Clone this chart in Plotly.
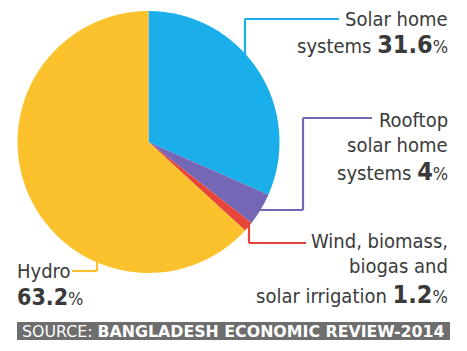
import math
import plotly.graph_objects as go

labels = ["Solar home systems", "Rooftop solar home systems", "Wind, biomass, biogas and solar irrigation", "Hydro"]
values = [31.6, 4, 1.2, 63.2]
colors = ["#1aaeea", "#7367b6", "#e8453a", "#fcc22e"]
source_regular = "SOURCE: "
source_bold = "BANGLADESH ECONOMIC REVIEW-2014"

W, H = 467, 351
FONT = "DejaVu Sans Condensed, Liberation Sans Narrow, sans-serif"
TXT = "#3a3a3a"

def px(x):
    return x / W

def py(y):
    return 1 - y / H

# pie geometry (pixels)
cx, cy, r = 148.5, 142, 131
dom_x = [px(cx - r), px(cx + r)]
dom_y = [py(cy + r), py(cy - r)]

fig = go.Figure(go.Pie(
    labels=labels, values=values, sort=False, direction="clockwise", rotation=0,
    marker=dict(colors=colors, line=dict(width=0)),
    textinfo="none", hoverinfo="label+percent", showlegend=False,
    domain=dict(x=dom_x, y=dom_y),
))

def edge_y(x, sign):
    return cy + sign * math.sqrt(max(r * r - (x - cx) ** 2, 0))

def edge_x(y, sign):
    return cx + sign * math.sqrt(max(r * r - (y - cy) ** 2, 0))

shapes = []
def seg(x0, y0, x1, y1, color):
    shapes.append(dict(type="line", xref="paper", yref="paper",
                       x0=px(x0), y0=py(y0), x1=px(x1), y1=py(y1),
                       line=dict(color=color, width=2.2), layer="below"))

# leader lines
seg(339, 19, 245, 19, colors[0]); seg(245, 19, 245, edge_y(245, -1) + 3, colors[0])
seg(372, 118, 303, 118, colors[1]); seg(303, 118, 303, 210, colors[1]); seg(303, 210, edge_x(210, 1) - 3, 210, colors[1])
seg(306, 243, 249, 243, colors[2]); seg(249, 243, 249, edge_y(249, 1) - 3, colors[2])
seg(72, 271, 97, 271, colors[3]); seg(97, 271, 97, edge_y(97, 1) - 3, colors[3])

# gray source bar
shapes.append(dict(type="rect", xref="paper", yref="paper",
                   x0=px(17), x1=px(450), y0=py(340), y1=py(322),
                   fillcolor="#6e6e6e", line=dict(width=0), layer="below"))

ann = []
def t(x, y, text, anchor="right", size=20):
    ann.append(dict(xref="paper", yref="paper", x=px(x), y=py(y), text=text,
                    showarrow=False, xanchor=anchor, yanchor="middle",
                    font=dict(family=FONT, size=size, color=TXT)))

def num(v, s=25):
    return f"<b><span style='font-size:{s}px'>{v:g}</span></b><span style='font-size:18px'>%</span>"

t(450, 19, "Solar home")
t(450, 45, "systems " + num(values[0]))
t(450, 120, "Rooftop")
t(450, 145, "solar home")
t(450, 171, "systems " + num(values[1]))
t(450, 241, "Wind, biomass,")
t(450, 266, "biogas and")
t(450, 294, "solar irrigation " + num(values[2]))
t(15, 271, "Hydro", anchor="left")
t(15, 297, num(values[3], 23), anchor="left")

ann.append(dict(xref="paper", yref="paper", x=px(20), y=py(331),
                text=source_regular + "<b>" + source_bold + "</b>",
                showarrow=False, xanchor="left", yanchor="middle",
                font=dict(family="DejaVu Sans, Verdana, sans-serif", size=15.8, color="white")))

fig.update_layout(width=W, height=H, margin=dict(l=0, r=0, t=0, b=0),
                  paper_bgcolor="white", plot_bgcolor="white",
                  shapes=shapes, annotations=ann)
fig.write_html("out.html")
